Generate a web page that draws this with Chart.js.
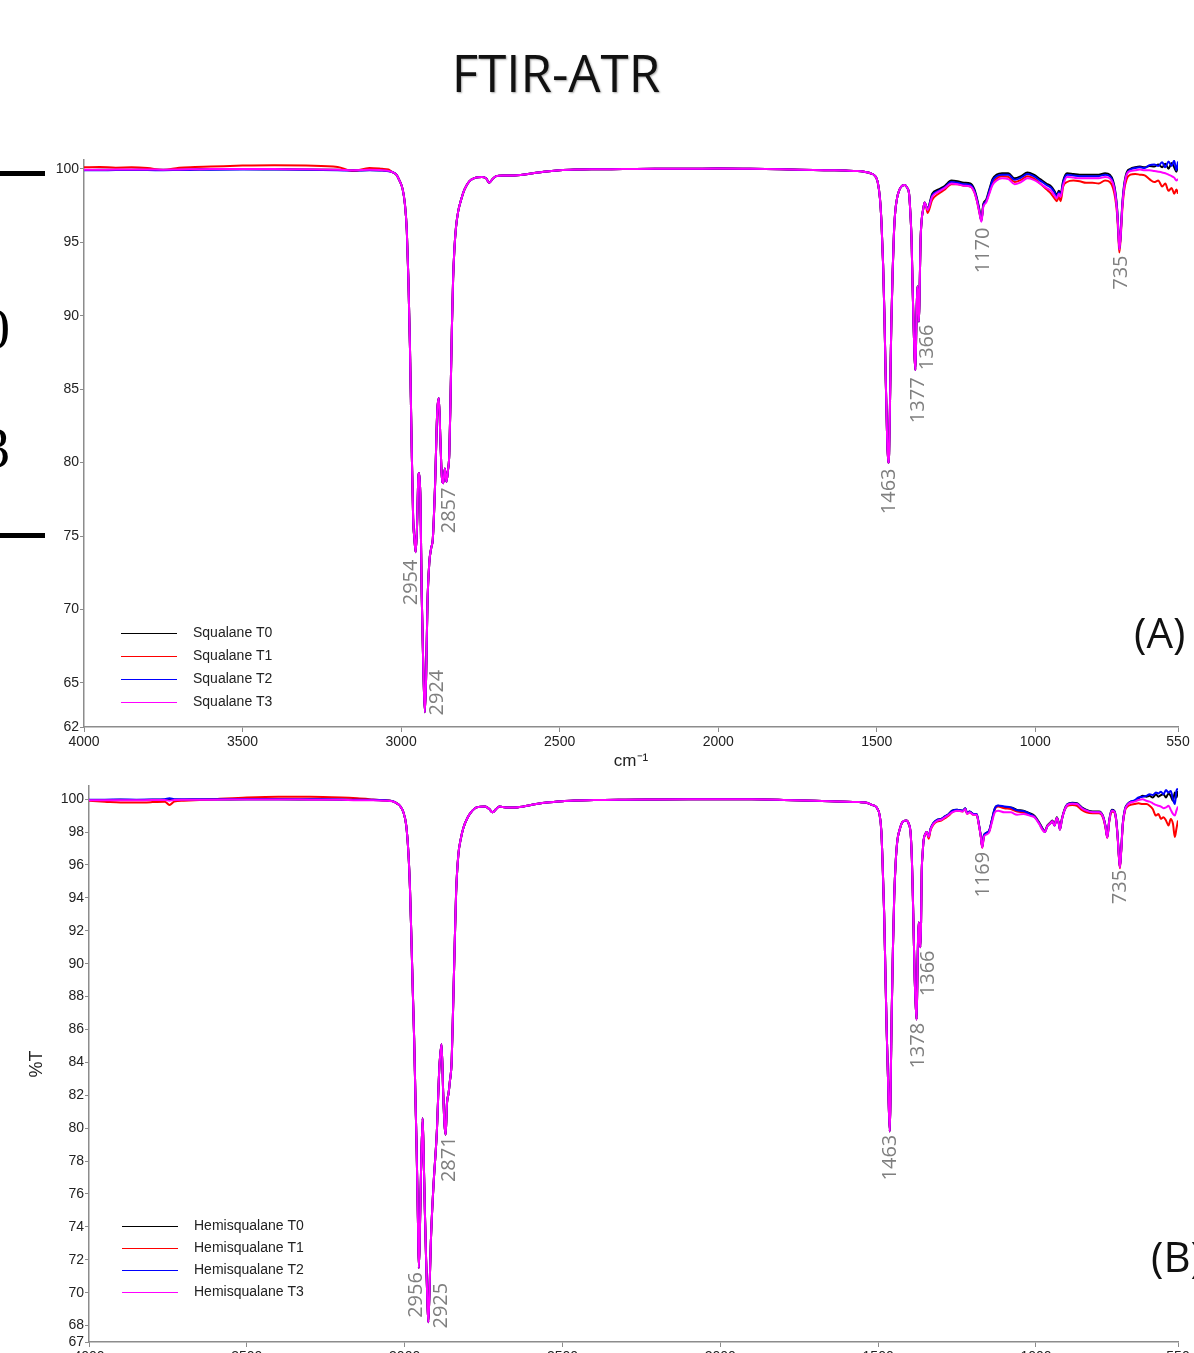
<!DOCTYPE html>
<html>
<head>
<meta charset="utf-8">
<title>FTIR-ATR</title>
<script src="https://cdn.jsdelivr.net/npm/chart.js@4.4.1/dist/chart.umd.min.js"></script>
<style>
  html, body { margin: 0; padding: 0; background: #fff; }
  body { position: relative; width: 1194px; height: 1353px; overflow: hidden; }
  .panel { position: absolute; left: 0; width: 1194px; }
  #panelA { top: 140px; height: 640px; }
  #panelB { top: 770px; height: 630px; }
  #title { position: absolute; left: 0; top: 42px; width: 1112px; text-align: center;
           font: 51px 'Open Sans'; line-height: 60px; color: #111; text-shadow: 1px 1px 2px rgba(0,0,0,0.35); }
  .tag { position: absolute; font: 42px 'Open Sans'; line-height: 50px; color: #111; white-space: nowrap; }
  .bar { position: absolute; left: 0; width: 45px; height: 5px; background: #000; }
  .cut { position: absolute; left: -18px; font: 56px 'Liberation Serif'; line-height: 56px; color: #000; }
</style>
</head>
<body>
<div id="title">FTIR-ATR</div>
<div class="bar" style="top:171px"></div>
<div class="bar" style="top:533px"></div>
<div class="cut" style="top:301px">0</div>
<div class="cut" style="top:420px">3</div>
<div class="panel" id="panelA"><canvas id="chartA"></canvas></div>
<div class="panel" id="panelB"><canvas id="chartB"></canvas></div>
<div class="tag" style="left:1134px; top:607px">(A)</div>
<div class="tag" style="left:1151px; top:1231px">(B)</div>
<script>
// axis ticks
const xTicks = [4000, 3500, 3000, 2500, 2000, 1500, 1000, 550];
const yTicksA = [62, 65, 70, 75, 80, 85, 90, 95, 100];
const yTicksB = [67, 68, 70, 72, 74, 76, 78, 80, 82, 84, 86, 88, 90, 92, 94, 96, 98, 100];

const namesA = ['Squalane T0', 'Squalane T1', 'Squalane T2', 'Squalane T3'];
const namesB = ['Hemisqualane T0', 'Hemisqualane T1', 'Hemisqualane T2', 'Hemisqualane T3'];
const seriesColors = ['#000000', '#ff0000', '#0000ff', '#ff00ff'];

// ---- panel A (squalane) ----
const wnHeadA = [4000, 3950, 3900, 3850, 3800, 3750, 3700, 3650, 3600, 3500, 3400, 3300, 3200, 3150, 3100, 3060, 3040];
const t0HeadA = [99.92, 99.93, 99.94, 99.94, 99.95, 99.93, 99.95, 99.96, 99.97, 99.98, 99.97, 99.96, 99.93, 99.9, 99.92, 99.9, 99.85];
const t1HeadA = [100.1, 100.12, 100.08, 100.1, 100.05, 99.92, 100.08, 100.12, 100.15, 100.22, 100.25, 100.22, 100.12, 99.85, 100.05, 100.0, 99.95];
const t2HeadA = [99.9, 99.9, 99.92, 99.92, 99.92, 99.9, 99.92, 99.93, 99.94, 99.95, 99.95, 99.93, 99.9, 99.88, 99.9, 99.88, 99.83];
const t3HeadA = [99.93, 99.94, 99.95, 99.95, 99.96, 99.94, 99.96, 99.97, 99.98, 99.99, 99.98, 99.97, 99.94, 99.91, 99.93, 99.91, 99.86];

// C-H stretch + bending region, same for all four samples
const wnCoreA = [3030, 3015, 3005, 2995, 2988, 2982, 2977, 2972, 2967, 2962, 2958, 2954, 2950, 2946, 2943, 2939, 2935, 2930, 2925, 2921,
  2917, 2911, 2905, 2900, 2893, 2886, 2881, 2876, 2872, 2867, 2862, 2857, 2852, 2848, 2844, 2840, 2836, 2832, 2827, 2820,
  2812, 2800, 2785, 2765, 2745, 2732, 2722, 2712, 2700, 2680, 2650, 2600, 2550, 2500, 2450, 2400, 2300, 2200, 2100, 2000,
  1900, 1800, 1700, 1650, 1600, 1560, 1540, 1520, 1505, 1497, 1490, 1485, 1480, 1476, 1472, 1468, 1464, 1461, 1457, 1454,
  1450, 1446, 1442, 1436, 1429, 1420, 1411, 1404, 1398, 1394, 1390, 1387, 1384, 1381, 1378, 1375, 1372, 1370, 1367, 1365,
  1362, 1358, 1354, 1349, 1345];
const coreA = [99.8, 99.6, 99.2, 98.6, 97.6, 95.8, 92.5, 87.8, 81.5, 76.2, 74.8, 73.9, 75.5, 78.8, 79.3, 77.5, 71.0, 66.0, 63.0, 65.5,
  70.3, 73.2, 74.2, 74.8, 78.4, 83.5, 84.4, 81.5, 79.2, 78.6, 79.6, 78.7, 79.5, 80.6, 84.5, 89.0, 92.5, 94.5, 96.0, 97.1,
  97.8, 98.6, 99.15, 99.4, 99.45, 99.35, 99.05, 99.3, 99.5, 99.55, 99.55, 99.65, 99.8, 99.9, 99.95, 99.97, 99.98, 100.0, 100.0, 100.02,
  100.0, 99.97, 99.92, 99.9, 99.88, 99.85, 99.8, 99.7, 99.5, 99.1, 98.0, 96.3, 93.5, 90.2, 86.0, 82.3, 80.0, 80.6, 85.8, 89.5,
  92.9, 95.5, 97.0, 98.0, 98.55, 98.85, 98.9, 98.7, 98.3, 97.0, 95.0, 92.0, 89.5, 87.3, 86.3, 89.5, 92.0, 91.5, 89.6, 91.5,
  95.0, 96.6, 97.2, 97.7, 97.5];

const wnTailA = [1340, 1325, 1305, 1285, 1265, 1245, 1225, 1205, 1192, 1184, 1177, 1170, 1164, 1155, 1145, 1135, 1122, 1105, 1085, 1065,
  1045, 1025, 1005, 985, 965, 950, 940, 932, 926, 920, 912, 900, 880, 860, 840, 820, 800, 780, 765, 755,
  748, 742, 738, 735, 731, 726, 720, 712, 700, 685, 670, 655, 640, 625, 612, 600, 590, 580, 570, 562, 555, 550];
const t0TailA = [97.3, 98.3, 98.6, 98.85, 99.2, 99.15, 99.05, 99.0, 98.6, 98.0, 97.3, 96.5, 97.6, 97.9, 98.6, 99.3, 99.6, 99.7, 99.7, 99.35,
  99.5, 99.75, 99.6, 99.3, 99.0, 98.8, 98.5, 98.2, 98.5, 98.3, 99.2, 99.7, 99.65, 99.6, 99.6, 99.6, 99.6, 99.7, 99.6, 99.2,
  98.5, 97.3, 95.8, 94.6, 95.5, 97.5, 98.9, 99.75, 100.0, 100.1, 100.15, 100.1, 100.2, 100.15, 100.3, 100.1, 100.35, 100.0, 100.4, 100.1, 99.8, 100.3];
const t1TailA = [97.0, 97.9, 98.3, 98.6, 98.95, 98.95, 98.85, 98.8, 98.4, 97.8, 97.1, 96.5, 97.5, 97.8, 98.4, 99.0, 99.35, 99.5, 99.45, 99.1,
  99.25, 99.5, 99.35, 99.0, 98.6, 98.3, 98.0, 97.8, 98.1, 97.8, 98.8, 99.1, 99.2, 99.15, 99.05, 99.05, 99.0, 99.2, 99.1, 98.7,
  98.0, 96.9, 95.4, 94.3, 95.2, 97.1, 98.5, 99.3, 99.6, 99.65, 99.6, 99.55, 99.3, 99.1, 99.2, 98.8, 99.0, 98.5, 98.7, 98.3, 98.6, 98.3];
const t2TailA = [97.25, 98.2, 98.5, 98.75, 99.1, 99.05, 98.95, 98.9, 98.5, 97.9, 97.2, 96.45, 97.5, 97.8, 98.5, 99.2, 99.5, 99.6, 99.6, 99.25,
  99.4, 99.65, 99.5, 99.2, 98.9, 98.7, 98.4, 98.1, 98.4, 98.2, 99.1, 99.6, 99.55, 99.5, 99.5, 99.5, 99.5, 99.6, 99.5, 99.1,
  98.4, 97.2, 95.7, 94.55, 95.4, 97.4, 98.8, 99.65, 99.95, 100.05, 100.1, 100.05, 100.25, 100.3, 100.2, 100.45, 100.1, 100.5, 100.2, 100.55, 99.9, 100.5];
const t3TailA = [97.2, 98.1, 98.45, 98.7, 99.0, 98.95, 98.85, 98.8, 98.4, 97.8, 97.1, 96.4, 97.4, 97.7, 98.3, 98.9, 99.2, 99.35, 99.3, 98.95,
  99.1, 99.35, 99.25, 99.0, 98.7, 98.5, 98.2, 98.0, 98.3, 98.1, 98.9, 99.45, 99.4, 99.35, 99.35, 99.35, 99.35, 99.45, 99.35, 99.0,
  98.3, 97.1, 95.7, 94.5, 95.4, 97.3, 98.7, 99.6, 99.85, 99.9, 99.95, 99.9, 99.9, 99.85, 99.8, 99.75, 99.7, 99.6, 99.5, 99.4, 99.2, 99.3];

// ---- panel B (hemisqualane) ----
const wnHeadB = [4000, 3950, 3900, 3850, 3800, 3760, 3745, 3730, 3700, 3650, 3600, 3500, 3400, 3300, 3200, 3150, 3100, 3060, 3040];
const t0HeadB = [99.95, 99.95, 99.96, 99.95, 99.96, 99.96, 99.96, 99.97, 99.97, 99.98, 99.98, 99.99, 99.99, 99.98, 99.97, 99.95, 99.95, 99.92, 99.88];
const t1HeadB = [99.9, 99.85, 99.8, 99.8, 99.82, 99.85, 99.65, 99.85, 99.9, 99.95, 100.0, 100.1, 100.15, 100.15, 100.1, 100.05, 99.98, 99.92, 99.88];
const t2HeadB = [99.97, 99.97, 99.98, 99.97, 99.98, 100.0, 100.05, 100.0, 99.99, 100.0, 100.0, 100.0, 100.0, 99.99, 99.98, 99.96, 99.96, 99.93, 99.89];
const t3HeadB = [99.93, 99.93, 99.94, 99.93, 99.95, 99.95, 99.9, 99.95, 99.96, 99.97, 99.97, 99.98, 99.98, 99.97, 99.96, 99.94, 99.94, 99.91, 99.87];

const wnCoreB = [3030, 3015, 3004, 2995, 2988, 2983, 2978, 2974, 2970, 2966, 2962, 2958, 2955, 2952, 2948, 2943, 2940, 2936, 2932, 2928,
  2925, 2921, 2917, 2909, 2898, 2890, 2883, 2878, 2874, 2870, 2866, 2861, 2857, 2851, 2846, 2841, 2837, 2830, 2822, 2814,
  2800, 2790, 2772, 2745, 2732, 2721, 2710, 2700, 2680, 2650, 2600, 2550, 2500, 2450, 2400, 2300, 2200, 2100, 2000, 1900,
  1800, 1700, 1650, 1600, 1560, 1540, 1520, 1505, 1495, 1490, 1486, 1481, 1477, 1473, 1468, 1463, 1460, 1457, 1453, 1449,
  1444, 1439, 1431, 1423, 1411, 1403, 1397, 1393, 1390, 1387, 1384, 1381, 1378, 1375, 1372, 1370, 1368, 1366, 1364, 1362,
  1359, 1356, 1350, 1346];
const coreB = [99.8, 99.6, 99.2, 98.4, 96.7, 94.5, 91.1, 88.2, 85.5, 82.0, 78.7, 74.5, 71.5, 73.5, 77.5, 80.6, 78.5, 75.0, 72.0, 69.5,
  68.2, 70.3, 73.1, 76.4, 79.8, 83.7, 85.1, 82.2, 80.3, 79.6, 81.5, 82.1, 82.8, 84.1, 87.7, 91.5, 94.3, 96.6, 97.6, 98.25,
  98.9, 99.2, 99.5, 99.55, 99.4, 99.2, 99.4, 99.55, 99.5, 99.5, 99.65, 99.8, 99.88, 99.92, 99.95, 99.97, 99.98, 99.99, 100.0, 99.99,
  99.95, 99.9, 99.87, 99.85, 99.82, 99.8, 99.65, 99.5, 99.0, 98.1, 96.2, 93.1, 89.5, 86.0, 82.5, 79.8, 83.0, 87.0, 91.0, 94.1,
  96.3, 97.5, 98.2, 98.6, 98.7, 98.5, 97.9, 96.3, 94.1, 91.5, 89.0, 87.5, 86.6, 90.0, 92.5, 92.3, 91.4, 91.0, 92.5, 95.5,
  96.7, 97.5, 97.9, 98.0];

const wnTailB = [1340, 1334, 1325, 1312, 1300, 1288, 1276, 1266, 1250, 1232, 1224, 1218, 1210, 1198, 1188, 1181, 1175, 1170, 1165, 1157,
  1148, 1140, 1130, 1120, 1100, 1080, 1060, 1040, 1020, 1005, 990, 980, 972, 964, 956, 948, 941, 934, 928, 924,
  918, 910, 900, 885, 870, 855, 840, 820, 800, 788, 780, 774, 768, 760, 752, 746, 741, 737, 734, 730,
  725, 718, 710, 700, 688, 675, 662, 650, 640, 630, 620, 612, 604, 596, 588, 580, 573, 566, 560, 555, 550];
const t0TailB = [97.7, 98.2, 98.55, 98.75, 98.8, 98.95, 99.1, 99.3, 99.35, 99.3, 99.45, 99.15, 99.25, 99.1, 99.1, 98.5, 97.8, 97.1, 97.8, 97.95,
  98.1, 98.7, 99.45, 99.6, 99.5, 99.5, 99.35, 99.3, 99.15, 99.0, 98.6, 98.25, 98.05, 98.4, 98.55, 98.7, 98.45, 98.9, 98.6, 98.2,
  98.8, 99.35, 99.7, 99.78, 99.75, 99.5, 99.35, 99.25, 99.25, 99.0, 98.4, 97.7, 98.7, 99.35, 99.3, 98.8, 97.7, 96.5, 95.9, 96.9,
  98.5, 99.4, 99.7, 99.85, 99.9, 100.05, 100.2, 100.15, 100.2, 100.1, 100.3, 100.15, 100.25, 100.3, 100.1, 100.35, 100.2, 99.9, 100.4, 100.1, 100.5];
const t1TailB = [97.6, 98.1, 98.45, 98.65, 98.7, 98.85, 99.0, 99.2, 99.3, 99.25, 99.4, 99.1, 99.2, 99.05, 99.05, 98.45, 97.75, 97.05, 97.75, 97.9,
  98.05, 98.65, 99.4, 99.55, 99.45, 99.4, 99.25, 99.2, 99.05, 98.95, 98.55, 98.2, 98.0, 98.35, 98.5, 98.65, 98.4, 98.85, 98.55, 98.15,
  98.75, 99.3, 99.6, 99.65, 99.6, 99.35, 99.2, 99.15, 99.15, 98.9, 98.3, 97.65, 98.6, 99.25, 99.2, 98.7, 97.6, 96.4, 95.8, 96.8,
  98.4, 99.3, 99.55, 99.65, 99.7, 99.75, 99.7, 99.7, 99.6, 99.4, 99.0, 99.1, 98.8, 98.9, 98.7, 98.4, 98.8, 98.5, 97.7, 98.2, 98.7];
const t2TailB = [97.75, 98.2, 98.55, 98.75, 98.8, 98.95, 99.1, 99.28, 99.35, 99.3, 99.45, 99.15, 99.25, 99.1, 99.1, 98.5, 97.8, 97.1, 97.8, 97.95,
  98.1, 98.7, 99.45, 99.62, 99.55, 99.5, 99.32, 99.28, 99.1, 98.95, 98.55, 98.2, 98.0, 98.35, 98.5, 98.65, 98.4, 98.85, 98.55, 98.15,
  98.75, 99.3, 99.68, 99.75, 99.72, 99.48, 99.32, 99.22, 99.22, 98.97, 98.38, 97.68, 98.68, 99.32, 99.27, 98.77, 97.68, 96.48, 95.88, 96.88,
  98.48, 99.38, 99.68, 99.85, 99.92, 100.1, 100.15, 100.2, 100.3, 100.25, 100.4, 100.35, 100.45, 100.3, 100.55, 100.4, 100.5, 100.0, 99.7, 100.5, 100.65];
const t3TailB = [97.7, 98.15, 98.5, 98.7, 98.75, 98.9, 99.05, 99.2, 99.3, 99.25, 99.4, 99.1, 99.2, 99.05, 99.05, 98.45, 97.75, 97.05, 97.7, 97.85,
  98.0, 98.55, 99.2, 99.3, 99.2, 99.2, 99.05, 99.1, 99.0, 98.9, 98.5, 98.15, 98.0, 98.35, 98.5, 98.65, 98.4, 98.85, 98.55, 98.15,
  98.75, 99.3, 99.65, 99.72, 99.7, 99.45, 99.3, 99.2, 99.2, 98.95, 98.35, 97.65, 98.65, 99.3, 99.25, 98.75, 97.65, 96.45, 95.85, 96.85,
  98.45, 99.35, 99.65, 99.8, 99.85, 99.95, 100.0, 99.9, 99.85, 99.75, 99.65, 99.6, 99.55, 99.45, 99.5, 99.6, 99.35, 99.1, 99.0, 99.3, 99.55];

// peak annotations: [text, wavenumber, %T where the rotated label starts]
const peaksA = [['2954', 2969, 73.4], ['2924', 2887, 65.9], ['2857', 2849, 78.3], ['1463', 1459, 79.6],
  ['1377', 1370, 85.8], ['1366', 1342, 89.4], ['1170', 1165, 96.0], ['735', 730, 94.1]];
const peaksB = [['2956', 2964, 71.25], ['2925', 2885, 70.6], ['2871', 2860, 79.5], ['1463', 1462, 79.6],
  ['1378', 1374, 86.4], ['1366', 1342, 90.8], ['1169', 1168, 96.8], ['735', 734, 95.7]];

Chart.defaults.font.family = 'Liberation Sans';

function joinParts(wnParts, valParts) {
  const pts = [];
  wnParts.forEach((wns, p) => wns.forEach((wn, i) => pts.push({ x: wn, y: valParts[p][i] })));
  return pts;
}

// rotated grey peak labels
const peakLabels = {
  id: 'peakLabels',
  afterDatasetsDraw(chart, args, opts) {
    const { ctx, scales: { x, y } } = chart;
    ctx.save();
    ctx.font = '20px "Open Sans"';
    ctx.fillStyle = '#7f7f7f';
    ctx.textAlign = 'right';
    ctx.textBaseline = 'middle';
    (opts.items || []).forEach(([text, wn, pct]) => {
      ctx.save();
      ctx.translate(x.getPixelForValue(wn), y.getPixelForValue(pct));
      ctx.rotate(-Math.PI / 2);
      ctx.fillText(text, 0, 0);
      ctx.restore();
    });
    ctx.restore();
  }
};

// legend inside the plot, bottom left, long line samples
const insideLegend = {
  id: 'insideLegend',
  afterDraw(chart, args, opts) {
    const { ctx, chartArea } = chart;
    const sets = chart.data.datasets;
    const left = chartArea.left + opts.left;
    let rowY = chartArea.bottom - opts.bottom - opts.spacing * (sets.length - 1);
    ctx.save();
    ctx.font = '14px "Liberation Sans"';
    ctx.textBaseline = 'middle';
    ctx.textAlign = 'left';
    sets.forEach(ds => {
      ctx.strokeStyle = ds.borderColor;
      ctx.lineWidth = 1;
      ctx.beginPath();
      ctx.moveTo(left, Math.round(rowY) + 0.5);
      ctx.lineTo(left + 56, Math.round(rowY) + 0.5);
      ctx.stroke();
      ctx.fillStyle = '#222';
      ctx.fillText(ds.label, left + 72, rowY);
      rowY += opts.spacing;
    });
    ctx.restore();
  }
};

function spectrumChart(canvasId, cfg) {
  const ctx = document.getElementById(canvasId).getContext('2d');
  return new Chart(ctx, {
    type: 'line',
    data: {
      datasets: cfg.names.map((name, i) => ({
        label: name,
        data: joinParts(cfg.wn, cfg.values[i]),
        borderColor: seriesColors[i],
        backgroundColor: seriesColors[i],
        borderWidth: 2,
        pointRadius: 0,
        fill: false,
        cubicInterpolationMode: 'monotone',
        order: 3 - i   // T3 on top
      }))
    },
    options: {
      responsive: true,
      maintainAspectRatio: false,
      devicePixelRatio: 1,
      animation: false,
      layout: { padding: { top: cfg.padTop, right: 16, left: 0, bottom: 0 } },
      plugins: {
        legend: { display: false },
        tooltip: { enabled: false },
        peakLabels: { items: cfg.peaks },
        insideLegend: cfg.legend
      },
      scales: {
        x: {
          type: 'linear',
          reverse: true,
          min: 550,
          max: 4000,
          afterBuildTicks: s => { s.ticks = xTicks.map(v => ({ value: v })); },
          afterFit: s => { s.height = cfg.xHeight; },
          grid: { drawOnChartArea: false, tickLength: 5, color: '#8c8c8c' },
          border: { color: '#8c8c8c', width: 1.5 },
          ticks: { color: '#222', font: { size: 14 }, padding: 2, maxRotation: 0, autoSkip: false, callback: v => String(v) },
          title: cfg.xTitle
        },
        y: {
          min: cfg.yMin,
          max: cfg.yMax,
          afterBuildTicks: s => { s.ticks = cfg.yTicks.map(v => ({ value: v })); },
          afterFit: s => { s.width = cfg.yWidth; },
          grid: { drawOnChartArea: false, tickLength: 4, color: '#8c8c8c' },
          border: { color: '#8c8c8c', width: 1.5 },
          ticks: { color: '#222', font: { size: 14 }, padding: 1, autoSkip: false, callback: v => String(v) },
          title: cfg.yTitle
        }
      }
    },
    plugins: [peakLabels, insideLegend]
  });
}

spectrumChart('chartA', {
  names: namesA,
  wn: [wnHeadA, wnCoreA, wnTailA],
  values: [
    [t0HeadA, coreA, t0TailA],
    [t1HeadA, coreA, t1TailA],
    [t2HeadA, coreA, t2TailA],
    [t3HeadA, coreA, t3TailA]
  ],
  peaks: peaksA,
  yTicks: yTicksA,
  yMin: 62,
  yMax: 100.6,
  padTop: 20,
  xHeight: 53,
  yWidth: 84,
  legend: { left: 37, bottom: 25, spacing: 23 },
  xTitle: { display: true, text: 'cm⁻¹', color: '#222', font: { size: 17 }, padding: { top: 0, bottom: 8 } },
  yTitle: { display: false }
});

spectrumChart('chartB', {
  names: namesB,
  wn: [wnHeadB, wnCoreB, wnTailB],
  values: [
    [t0HeadB, coreB, t0TailB],
    [t1HeadB, coreB, t1TailB],
    [t2HeadB, coreB, t2TailB],
    [t3HeadB, coreB, t3TailB]
  ],
  peaks: peaksB,
  yTicks: yTicksB,
  yMin: 67,
  yMax: 100.8,
  padTop: 16,
  xHeight: 58,
  yWidth: 89,
  legend: { left: 33, bottom: 50, spacing: 22 },
  xTitle: { display: false },
  yTitle: { display: true, text: '%T', color: '#222', font: { size: 18 }, padding: { top: 26, bottom: 0 } }
});
</script>
</body>
</html>
